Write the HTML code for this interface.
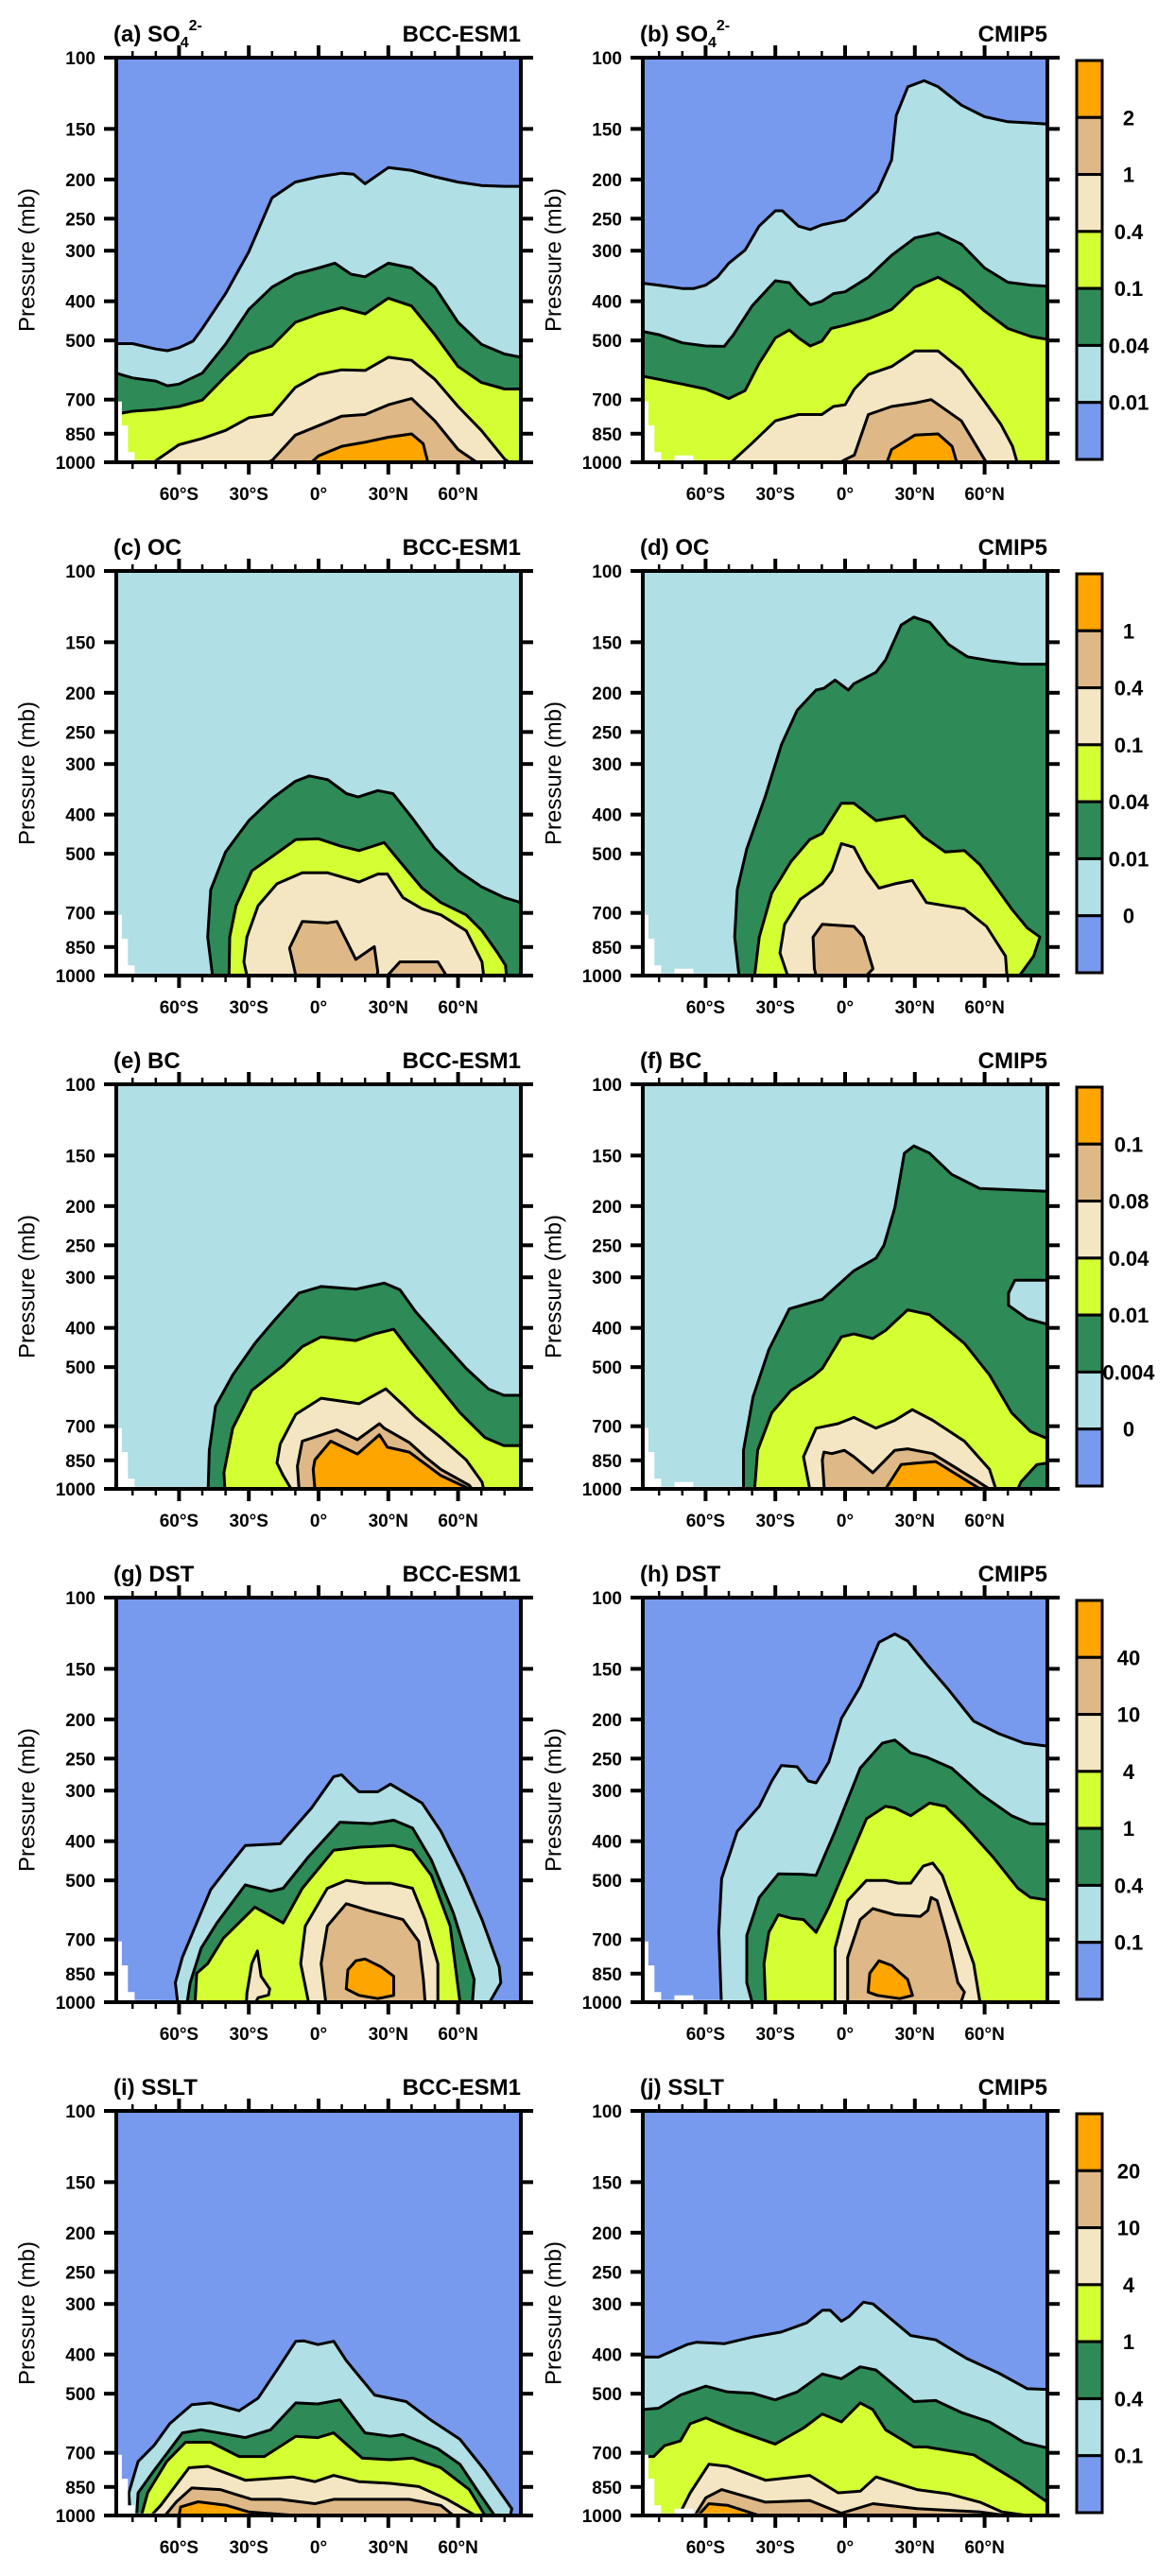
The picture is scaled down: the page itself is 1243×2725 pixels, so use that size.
<!DOCTYPE html>
<html><head><meta charset="utf-8">
<style>
html,body{margin:0;padding:0;background:#fff;}
svg{display:block;font-family:"Liberation Sans",Arial,sans-serif;}
</style></head>
<body>
<svg id="fig" width="1243" height="2725" viewBox="0 0 1243 2725" xmlns="http://www.w3.org/2000/svg"></svg>
<script>
// ---------- tick labels ----------
const presTicks=[100,150,200,250,300,400,500,700,850,1000];
const latMajor=[-60,-30,0,30,60];
const latMajorLabels=["60°S","30°S","0°","30°N","60°N"];
const latMinor=[-80,-70,-50,-40,-20,-10,10,20,40,50,70,80];
const cbLabels1=["2","1","0.4","0.1","0.04","0.01"];
const cbLabels2=["1","0.4","0.1","0.04","0.01","0"];
const cbLabels3=["0.1","0.08","0.04","0.01","0.004","0"];
const cbLabels4=["40","10","4","1","0.4","0.1"];
const cbLabels5=["20","10","4","1","0.4","0.1"];

// ---------- contour data (lat in degrees, pressure in mb) ----------
const a_lb_lat=[-87,-80,-70,-65,-60,-54,-50,-40,-30,-20,-10,0,10,15,20,30,40,50,60,70,80,87];
const a_lb_p=[509,509,525,530,521,502,467,383,302,222,203,197,193,194,205,187,190,197,203,207,208,208];
const a_g_lat=[-87,-80,-70,-65,-60,-50,-40,-30,-20,-10,0,7,14,20,30,40,50,60,70,80,87];
const a_g_p=[602,619,630,647,641,602,511,419,369,343,331,322,343,348,322,331,369,451,511,540,550];
const a_y_lat=[-87,-80,-70,-60,-50,-40,-30,-20,-10,0,10,20,30,40,50,60,70,80,87];
const a_y_p=[760,748,741,728,702,613,540,516,451,430,415,430,393,411,484,580,635,659,659];
const a_w_lat=[-71,-60,-50,-40,-30,-20,-10,0,10,20,30,40,50,60,70,80,82];
const a_w_p=[1000,905,873,834,776,762,653,607,591,593,550,560,624,728,834,982,1000];
const a_t_lat=[-22,-20,-10,0,10,20,30,40,50,60,68];
const a_t_p=[1000,990,857,812,769,762,721,696,790,930,1000];
const a_o_lat=[-3,0,10,20,30,40,45,47];
const a_o_p=[1000,964,913,892,867,851,900,1000];

const b_lb_lat=[-87,-80,-70,-65,-60,-55,-50,-43,-37,-30,-27,-20,-15,-10,0,7,14,20,22,27,34,40,50,60,70,80,87];
const b_lb_p=[361,365,372,372,365,349,322,299,261,239,239,261,266,259,252,234,214,179,139,118,114,118,131,140,144,145,146];
const b_g_lat=[-87,-80,-70,-60,-52,-48,-40,-30,-24,-20,-15,-10,-5,0,10,20,30,40,50,60,70,80,87];
const b_g_p=[475,484,507,516,517,484,411,356,360,383,408,400,383,379,349,308,279,271,289,331,359,365,367];
const b_y_lat=[-87,-80,-70,-60,-50,-43,-37,-30,-24,-20,-15,-10,-6,0,10,20,30,40,50,60,70,80,87];
const b_y_p=[613,624,641,659,696,665,570,493,471,493,516,502,467,458,442,419,369,349,376,423,467,489,497];
const b_w_lat=[-49,-40,-30,-20,-10,-5,0,4,10,20,30,40,50,60,67,72,74];
const b_w_p=[1000,897,790,762,762,728,721,659,607,580,531,531,591,708,806,913,1000];
const b_t_lat=[-2,0,4,10,20,30,37,50,60,61];
const b_t_p=[1000,985,960,762,728,714,700,790,985,1000];
const b_o_lat=[18,20,30,40,46,48];
const b_o_p=[1000,930,857,851,913,1000];

const c_g_lat=[-45.6,-47.7,-46.4,-40,-30,-20,-10,-4,4,12,17,25.5,32,40,50,60,70,80,87];
const c_g_p=[1000,803,614,495,414,365,331,321,328,355,362,349,355,406,486,551,603,642,660];
const c_y_lat=[-38.5,-38.2,-35.5,-28.7,-20,-9.8,0,9.2,17.4,28.2,35,44.5,52.6,63.5,70.3,77,80.4,80.8];
const c_y_p=[1000,803,672,551,508,461,459,478,491,469,523,608,660,708,775,879,944,1000];
const c_w_lat=[-30.8,-32.1,-30.8,-26,-17.9,-7,3.8,17.4,25.5,29.6,36.3,44.5,52.6,63.5,70.3,71];
const c_w_p=[1000,925,803,672,593,557,557,587,561,561,642,684,708,775,925,1000];
const c_t1_lat=[-9.8,-12.5,-7,3.8,7.9,16,24,25.5,25];
const c_t1_p=[1000,855,735,741,735,912,848,980,1000];
const c_t2_lat=[29.6,35,51.3,55];
const c_t2_p=[1000,925,925,1000];

const d_g_lat=[-45.6,-47.5,-46.4,-42.3,-34.2,-27.4,-20.6,-12.5,-9.1,-4.3,1.4,3.8,13.3,17.4,24.1,29.6,36.4,44.5,52.6,63.5,75.7,87];
const d_g_p=[1000,803,614,486,359,269,221,197,195,186,197,190,178,166,136,130,134,152,163,167,170,170];
const d_y_lat=[-38.9,-36.9,-31.5,-23.3,-15.2,-9.8,-1.6,3.8,13.3,25.5,33.6,43.1,51.3,58,64.8,71.6,78.4,83.8,81.1,75];
const d_y_p=[1000,803,625,523,461,445,375,375,414,403,453,495,491,532,603,684,763,803,895,1000];
const d_w_lat=[-24.7,-28,-26,-19.3,-9.8,-5.7,-1.6,3.8,9.2,14.6,21.4,28.9,35,51.3,60.8,69,69.6];
const d_w_p=[1000,879,747,648,593,551,472,482,551,608,593,582,660,684,756,895,1000];
const d_t_lat=[-12.5,-13.2,-13.8,-9.8,3.8,7.9,12,9.2];
const d_t_p=[1000,962,803,747,756,803,962,1000];

const e_g_lat=[-47.5,-47,-44.3,-36.9,-27.4,-19.3,-8.4,1.1,16,28.2,35,41.8,51.3,63.5,73,79.7,87];
const e_g_p=[1000,803,625,523,437,385,328,316,321,310,322,365,421,504,566,587,587];
const e_y_lat=[-40.3,-40.7,-36.9,-28.7,-15.2,-7,1.1,16,24.1,32.3,39,49.9,60.8,71.6,79.7,87];
const e_y_p=[1000,911,708,571,495,445,421,430,414,403,453,542,648,747,782,782];
const e_w_lat=[-11.8,-15.2,-17.9,-16.5,-9.8,1.1,17.4,28.9,36.3,41.8,52.6,63.5,70.3,71];
const e_w_p=[1000,927,863,775,654,597,616,566,620,666,747,848,962,1000];
const e_t_lat=[-8.4,-9.1,-7,7.9,16.7,26.2,28.2,39,45.8,52.6,64.8,66];
const e_t_p=[1000,879,762,715,756,690,708,768,833,895,980,1000];
const e_o_lat=[-1.6,-2.3,-1.6,5.2,16.7,26.2,29.6,39,52.6,64.8];
const e_o_p=[1000,895,848,762,820,735,789,811,927,1000];

const f_g_lat=[-43.7,-43.7,-39.6,-32.8,-24,-9.8,-1.6,3.8,13.3,16.7,21.4,25.5,29.6,36.3,45.8,58,87];
const f_g_p=[1000,803,593,453,359,340,308,289,269,250,202,148,142,148,167,181,184];
const f_hole_lat=[87,73,70.3,70.3,78.4,87];
const f_hole_p=[305,305,328,352,380,392];
const f_y_lat=[-38.9,-37.6,-31.5,-23.3,-13.8,-9.8,-1.6,3.8,11.9,17.4,26.9,36.3,51.3,62.1,71.6,79.7,87];
const f_y_p=[1000,803,648,571,527,504,421,414,425,406,361,371,437,523,648,721,751];
const f_gi_lat=[74.3,75.7,82.5,87,87];
const f_gi_p=[1000,960,871,863,1000];
const f_w_lat=[-15.2,-17.9,-12.5,-3,3.8,13.3,21.4,28.9,37.7,51.3,62.1,64.8];
const f_w_p=[1000,833,708,690,666,708,677,637,677,762,895,1000];
const f_t_lat=[-9,-9.8,-9.1,-5.7,-0.3,3.8,11.9,21.4,26.9,37.7,55.3,62];
const f_t_p=[1000,848,811,818,803,833,912,803,796,818,944,1000];
const f_o_lat=[17.4,24.1,30.9,39,58];
const f_o_p=[1000,871,863,856,1000];

const g_lb_lat=[-60.6,-61.6,-58.6,-51.8,-46.4,-39.6,-31.5,-16.5,-3,6.5,9.9,13.3,17.4,25.5,30.9,37.7,44.5,52.6,62.1,70.3,77.7,78.4,73.6];
const g_lb_p=[1000,895,775,625,527,469,410,406,331,277,274,287,302,302,289,305,322,378,486,625,818,895,1000];
const g_g_lat=[-56.5,-55.2,-50.5,-43.7,-31.5,-20.6,-15.2,-4.3,9.2,22.8,32.3,40.4,48.5,58,66.9,66.2];
const g_g_p=[1000,895,735,637,513,532,523,437,359,362,355,371,445,603,879,1000];
const g_y_lat=[-53.1,-52.4,-47.7,-41,-27.4,-15.2,-7,6.5,17.4,32.3,40.4,48.5,56.6,60.8];
const g_y_p=[1000,848,803,696,582,637,523,421,414,410,421,486,648,1000];
const g_wi_lat=[-31,-30.8,-28.7,-26.3,-24.7,-21,-21.5,-26,-27];
const g_wi_p=[1000,950,803,747,863,927,960,975,1000];
const g_w_lat=[-4.3,-7.7,-5.7,3.8,11.9,20,30.9,40.4,45.8,51.3,51.3];
const g_w_p=[1000,803,648,523,500,508,508,523,625,803,1000];
const g_t_lat=[3.1,1.1,3.8,11.9,21.4,36.3,43.1,45.1,45.8];
const g_t_p=[1000,803,648,571,593,625,708,879,1000];
const g_o_lat=[11.9,12.6,16,20,26.9,32.3,32.3,25.5,17.4];
const g_o_p=[927,832,790,782,818,863,962,980,962];

const h_lb_lat=[-53.2,-54.3,-53.1,-46.4,-36.9,-31.5,-27.4,-20.6,-15.9,-12.5,-7,-1.6,6.5,14.6,21.4,26.9,35,44.5,55.3,66.2,77,87];
const h_lb_p=[1000,672,495,378,328,284,260,262,284,287,255,199,166,129,123,128,146,169,202,217,229,233];
const h_g_lat=[-40,-42.3,-42.3,-36.9,-28.7,-17.9,-12.5,-4.3,6.5,16,21.4,28.2,35,45.8,58,71.6,79.7,87];
const h_g_p=[1000,895,684,551,482,483,486,378,264,229,225,242,248,264,305,346,362,363];
const h_y_lat=[-34.2,-34.9,-32.8,-28.7,-23.3,-17.9,-12.5,-7,1.1,9.2,17.4,21.4,28.2,36.3,43.1,51.3,63.5,74.3,79.7,87];
const h_y_p=[1000,803,672,608,620,625,672,582,453,352,328,331,346,322,328,365,437,523,551,559];
const h_w_lat=[-4.3,-4.3,1.1,9.2,17.4,22.8,28.2,33.6,37.7,41.8,48.5,55.3,58];
const h_w_p=[1000,735,561,500,500,508,508,461,453,486,625,803,1000];
const h_t_lat=[1.1,1.1,6.5,11.9,21.4,32.3,35.6,37,39.6,44.5,48.5,51.3,49.9];
const h_t_p=[1000,775,625,587,608,614,593,551,561,708,895,944,1000];
const h_o_lat=[9.9,10.6,14.6,20,26.9,29,23.5,13.9];
const h_o_p=[944,848,790,811,879,962,980,962];

const i_lb_lat=[-81,-81.6,-77.6,-70.8,-64,-54.5,-46.4,-34.2,-26,-17.9,-9.8,-6.4,-0.3,6.5,11.9,24.1,37.7,48.5,60.8,71.6,83.1,82.5];
const i_lb_p=[1000,879,735,672,593,532,527,551,513,437,371,370,378,371,414,504,523,582,648,775,962,1000];
const i_g_lat=[-78.2,-77.6,-70.8,-58.6,-50.5,-31.5,-20.6,-9.8,-0.3,9.2,20,30.9,36.3,51.3,60.8,69,75.7];
const i_g_p=[1000,879,775,625,614,642,614,527,530,518,625,637,631,684,747,879,1000];
const i_y_lat=[-76.2,-73.5,-65.3,-57.2,-46.4,-34.2,-23.3,-9.8,-0.3,6.5,18.7,30.9,40.4,52.6,64.8,71.6];
const i_y_p=[1000,879,735,659,659,715,715,637,642,625,721,728,721,762,863,1000];
const i_w_lat=[-72,-67.9,-55.7,-47.6,-31.5,-11.2,-1.6,6.5,17.4,30.9,43.1,55.3,67.5];
const i_w_p=[1000,944,762,756,818,803,825,796,825,833,848,912,1000];
const i_t_lat=[-66,-61.3,-54.5,-42.3,-28.7,-16.5,-1.6,6.5,17.4,39,52.6,58];
const i_t_p=[1000,927,855,863,912,912,935,912,912,912,944,1000];
const i_o_lat=[-60,-59.3,-51.8,-39.6,-30.1,-9.8];
const i_o_p=[1000,952,925,944,980,1000];

const j_lb_lat=[-87,-80.2,-68,-63.9,-51.8,-39.6,-27.4,-16.5,-9.8,-6.4,-1.6,1.8,7.9,12,28.2,39,52.6,66.2,78.4,87];
const j_lb_p=[406,406,378,373,376,362,352,334,311,311,331,322,297,300,359,368,410,445,486,488];
const j_g_lat=[-87,-80.2,-70.8,-59.9,-50.5,-39.6,-30.1,-20.6,-9.8,-1.6,6.5,13.3,29.6,39,49.9,62.1,77,87];
const j_g_p=[547,543,504,479,495,499,518,495,447,459,429,437,523,520,556,587,660,681];
const j_y_lat=[-87,-82.3,-77.6,-70.8,-66.6,-59.9,-47.7,-30.1,-17.9,-9.8,-1.6,6.5,11.9,17.4,29.6,35,55.3,74.3,87];
const j_y_p=[715,715,672,654,593,574,614,666,608,561,587,527,547,614,677,677,708,825,927];
const j_w_lat=[-71.5,-66.6,-58.6,-50.5,-34.2,-15.2,-3,6.5,13.3,30.9,44.5,58,67.5,78.4];
const j_w_p=[1000,879,747,756,818,796,879,871,803,863,884,927,980,1000];
const j_t_lat=[-64.6,-59.9,-53.1,-34.2,-15.2,-1.6,12,30.9,58,69];
const j_t_p=[1000,904,863,927,918,987,935,962,980,1000];
const j_o_lat=[-63.2,-58.6,-50.5,-36.9];
const j_o_p=[1000,935,944,1000];

// missing-data (terrain) mask
const maskL_lat=[-87,-87,-84.6,-84.6,-82,-82,-79.1,-79.1,-68,-68];
const maskL_p=[1000,708,708,811,811,944,944,988,988,1000];
const maskR_lat=[-87,-87,-84.6,-84.6,-82,-82,-79.1,-79.1,-73.4,-73.4,-65.3,-65.3,-49,-49];
const maskR_p=[1000,708,708,811,811,944,944,988,988,962,962,988,988,1000];

const colors=["#7799ee","#b0dfe5","#2e8b57","#d4ff33","#f5e6c3","#deb887","#ffa500"];
const bandNames=["blue","lightblue","green","yellow","wheat","tan","orange"];

const rowTop=[61,604,1147,1690,2233];
const colLeft=[123,680];
const PW=428, PH=428;

const panels=[
 {id:"a",row:0,col:0,sp:"SO4",model:"BCC-ESM1",bg:0,curves:[[1,a_lb_lat,a_lb_p],[2,a_g_lat,a_g_p],[3,a_y_lat,a_y_p],[4,a_w_lat,a_w_p],[5,a_t_lat,a_t_p],[6,a_o_lat,a_o_p]],islands:[]},
 {id:"b",row:0,col:1,sp:"SO4",model:"CMIP5",bg:0,curves:[[1,b_lb_lat,b_lb_p],[2,b_g_lat,b_g_p],[3,b_y_lat,b_y_p],[4,b_w_lat,b_w_p],[5,b_t_lat,b_t_p],[6,b_o_lat,b_o_p]],islands:[]},
 {id:"c",row:1,col:0,sp:"OC",model:"BCC-ESM1",bg:1,curves:[[2,c_g_lat,c_g_p],[3,c_y_lat,c_y_p],[4,c_w_lat,c_w_p],[5,c_t1_lat,c_t1_p],[5,c_t2_lat,c_t2_p]],islands:[]},
 {id:"d",row:1,col:1,sp:"OC",model:"CMIP5",bg:1,curves:[[2,d_g_lat,d_g_p],[3,d_y_lat,d_y_p],[4,d_w_lat,d_w_p],[5,d_t_lat,d_t_p]],islands:[]},
 {id:"e",row:2,col:0,sp:"BC",model:"BCC-ESM1",bg:1,curves:[[2,e_g_lat,e_g_p],[3,e_y_lat,e_y_p],[4,e_w_lat,e_w_p],[5,e_t_lat,e_t_p],[6,e_o_lat,e_o_p]],islands:[]},
 {id:"f",row:2,col:1,sp:"BC",model:"CMIP5",bg:1,curves:[[2,f_g_lat,f_g_p],[3,f_y_lat,f_y_p],[4,f_w_lat,f_w_p],[5,f_t_lat,f_t_p],[6,f_o_lat,f_o_p]],islands:[[1,f_hole_lat,f_hole_p,1],[2,f_gi_lat,f_gi_p,2]]},
 {id:"g",row:3,col:0,sp:"DST",model:"BCC-ESM1",bg:0,curves:[[1,g_lb_lat,g_lb_p],[2,g_g_lat,g_g_p],[3,g_y_lat,g_y_p],[4,g_wi_lat,g_wi_p],[4,g_w_lat,g_w_p],[5,g_t_lat,g_t_p]],islands:[[6,g_o_lat,g_o_p,6]]},
 {id:"h",row:3,col:1,sp:"DST",model:"CMIP5",bg:0,curves:[[1,h_lb_lat,h_lb_p],[2,h_g_lat,h_g_p],[3,h_y_lat,h_y_p],[4,h_w_lat,h_w_p],[5,h_t_lat,h_t_p]],islands:[[6,h_o_lat,h_o_p,6]]},
 {id:"i",row:4,col:0,sp:"SSLT",model:"BCC-ESM1",bg:0,curves:[[1,i_lb_lat,i_lb_p],[2,i_g_lat,i_g_p],[3,i_y_lat,i_y_p],[4,i_w_lat,i_w_p],[5,i_t_lat,i_t_p],[6,i_o_lat,i_o_p]],islands:[]},
 {id:"j",row:4,col:1,sp:"SSLT",model:"CMIP5",bg:0,curves:[[1,j_lb_lat,j_lb_p],[2,j_g_lat,j_g_p],[3,j_y_lat,j_y_p],[4,j_w_lat,j_w_p],[5,j_t_lat,j_t_p],[6,j_o_lat,j_o_p]],islands:[]}
];
const cbAll=[cbLabels1,cbLabels2,cbLabels3,cbLabels4,cbLabels5];
const NS="http://www.w3.org/2000/svg";
const svg=document.getElementById("fig");
function mk(tag,attrs,parent){const e=document.createElementNS(NS,tag);for(const k in attrs)e.setAttribute(k,attrs[k]);(parent||svg).appendChild(e);return e;}
function xScale(left,lat){return left+(lat+87)/174*PW;}
function yScale(top,p){return top+Math.log10(p/100)*PH;}

panels.forEach(pn=>{
  const L=colLeft[pn.col], T=rowTop[pn.row];
  const g=mk("g",{});
  
  
  const cid="clip-"+pn.id;
  const cp=mk("clipPath",{id:cid},g);
  mk("rect",{x:L,y:T,width:PW,height:PH},cp);
  const plot=mk("g",{"clip-path":"url(#"+cid+")"},g);
  const bg=mk("rect",{x:L,y:T,width:PW,height:PH,fill:colors[pn.bg]},plot);
  
  
  pn.curves.forEach((c,ci)=>{
    const lv=c[0],la=c[1],pr=c[2];
    const pts=la.map((v,k)=>xScale(L,v).toFixed(1)+","+yScale(T,pr[k]).toFixed(1));
    const poly=pts.concat([xScale(L,la[la.length-1]).toFixed(1)+","+(T+PH+4),xScale(L,la[0]).toFixed(1)+","+(T+PH+4)]);
    const f=mk("polygon",{points:poly.join(" "),fill:colors[lv]},plot);
    
    
    const s=mk("polyline",{points:pts.join(" "),fill:"none",stroke:"#000","stroke-width":3,"stroke-linejoin":"round"},plot);
    
    
  });
  pn.islands.forEach(c=>{
    const lv=c[0],la=c[1],pr=c[2];
    const pts=la.map((v,k)=>xScale(L,v).toFixed(1)+","+yScale(T,pr[k]).toFixed(1));
    const f=mk("polygon",{points:pts.join(" "),fill:colors[lv],stroke:"#000","stroke-width":3,"stroke-linejoin":"round"},plot);
    
    
  });
  const ml=pn.col===0?maskL_lat:maskR_lat, mp=pn.col===0?maskL_p:maskR_p;
  const m=mk("polygon",{points:ml.map((v,k)=>xScale(L,v).toFixed(1)+","+Math.min(yScale(T,mp[k]),T+PH+4).toFixed(1)).join(" "),fill:"#fff"},plot);
  
  
  const fr=mk("rect",{x:L,y:T,width:PW,height:PH,fill:"none",stroke:"#000","stroke-width":4},g);
  
  
  presTicks.forEach(p=>{
    const y=yScale(T,p);
    mk("line",{x1:L-13,x2:L,y1:y,y2:y,stroke:"#000","stroke-width":4},g);
    mk("line",{x1:L+PW,x2:L+PW+13,y1:y,y2:y,stroke:"#000","stroke-width":4},g);
    const t=mk("text",{x:L-22,y:y+7,"text-anchor":"end","font-size":19,"font-weight":"bold"},g);
    t.textContent=p;
    
    
  });
  latMajor.forEach((lat,k)=>{
    const x=xScale(L,lat);
    mk("line",{x1:x,x2:x,y1:T-13,y2:T,stroke:"#000","stroke-width":4},g);
    mk("line",{x1:x,x2:x,y1:T+PH,y2:T+PH+13,stroke:"#000","stroke-width":4},g);
    const t=mk("text",{x:x,y:T+PH+40,"text-anchor":"middle","font-size":19,"font-weight":"bold"},g);
    t.textContent=latMajorLabels[k];
    
    
  });
  latMinor.forEach(lat=>{
    const x=xScale(L,lat);
    mk("line",{x1:x,x2:x,y1:T-7,y2:T,stroke:"#000","stroke-width":2.5},g);
    mk("line",{x1:x,x2:x,y1:T+PH,y2:T+PH+7,stroke:"#000","stroke-width":2.5},g);
  });
  const yt=mk("text",{x:0,y:0,"text-anchor":"middle","font-size":24,transform:"translate("+(L-93)+","+(T+214)+") rotate(-90)","dominant-baseline":"middle"},g);
  yt.textContent="Pressure (mb)";
  
  
  const tt=mk("text",{x:L-3,y:T-17,"font-size":24,"font-weight":"bold"},g);
  
  
  if(pn.sp==="SO4"){
    tt.appendChild(document.createTextNode("("+pn.id+") SO"));
    const s1=mk("tspan",{dy:6,"font-size":16},tt); s1.textContent="4";
    const s2=mk("tspan",{dy:-18,"font-size":16},tt); s2.textContent="2-";
  } else { tt.textContent="("+pn.id+") "+pn.sp; }
  const mt=mk("text",{x:L+PW,y:T-17,"text-anchor":"end","font-size":24,"font-weight":"bold"},g);
  mt.textContent=pn.model;
  
  
});

rowTop.forEach((T,r)=>{
  const g=mk("g",{});
  
  
  const top=T+3, bh=(422)/7;
  for(let k=0;k<7;k++){
    const lv=6-k;
    const b=mk("rect",{x:1139,y:top+k*bh,width:27,height:bh,fill:colors[lv],stroke:"#000","stroke-width":3},g);
    
    
  }
  cbAll[r].forEach((lab,k)=>{
    const t=mk("text",{x:1194,y:top+(k+1)*bh+8,"text-anchor":"middle","font-size":22,"font-weight":"bold"},g);
    t.textContent=lab;
    
    
  });
});
</script>
</body></html>
